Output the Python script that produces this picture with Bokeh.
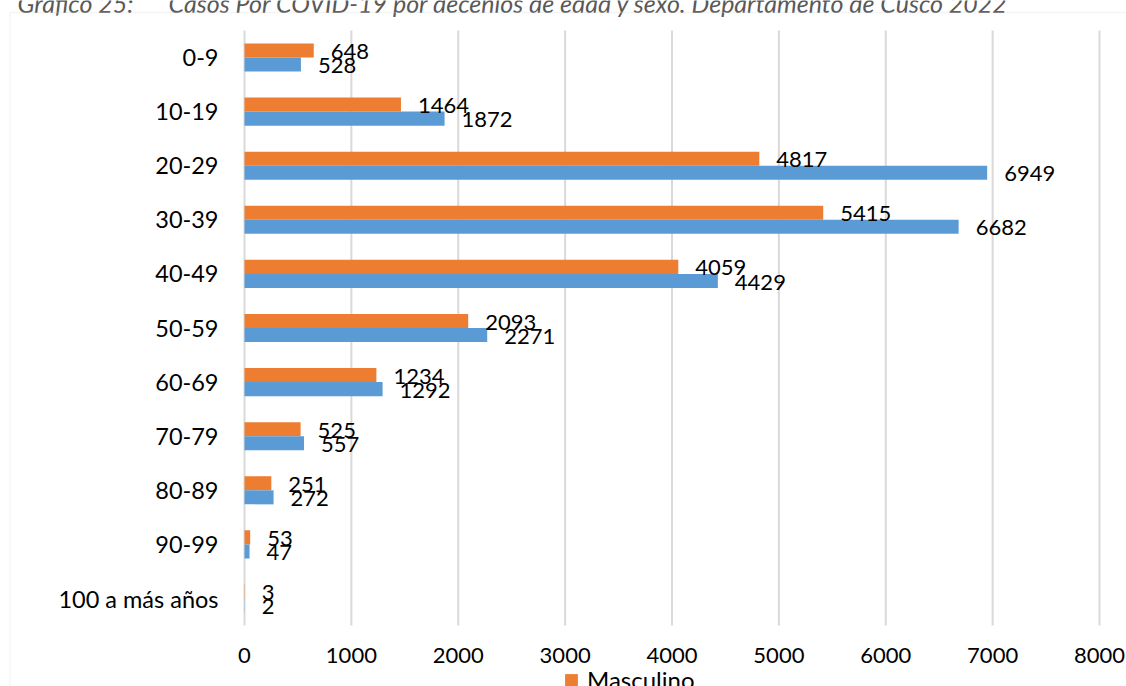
from bokeh.plotting import figure
from bokeh.models import ColumnDataSource, Range1d, BoxAnnotation, Legend, LegendItem
from bokeh.transform import dodge
from bokeh.core.properties import value
from bokeh.embed import file_html
from bokeh.resources import INLINE

# ---- data ----
categories = ["0-9", "10-19", "20-29", "30-39", "40-49", "50-59", "60-69",
              "70-79", "80-89", "90-99", "100 a más años"]
masculino = [648, 1464, 4817, 5415, 4059, 2093, 1234, 525, 251, 53, 3]
femenino = [528, 1872, 6949, 6682, 4429, 2271, 1292, 557, 272, 47, 2]
x_ticks = [0, 1000, 2000, 3000, 4000, 5000, 6000, 7000, 8000]
x_tick_labels = [str(t) for t in x_ticks]
title_parts = ["Gráfico 25:",
               "Casos Por COVID-19 por decenios de edad y sexo. Departamento de Cusco 2022"]

ORANGE = "#ED7D31"
BLUE = "#5B9BD5"
GRID = "#d9d9d9"
FONT = "Lato"

W, H = 1126, 686
PX_PER_UNIT_X = 0.106875   # px per value unit
X0_PX = 244                # px position of value 0
ROW_PX = 54.1              # px per category row
ROW0_PX = 57               # px position of first category centre


def xv(px):
    return (px - X0_PX) / PX_PER_UNIT_X


def yv(px):
    return (px - ROW0_PX) / ROW_PX


p = figure(width=W, height=H, output_backend="svg", toolbar_location=None,
           x_axis_type=None, y_axis_type=None,
           x_range=Range1d(xv(0), xv(W)), y_range=Range1d(yv(H), yv(0)),
           min_border=0, min_border_left=0, min_border_right=0,
           min_border_top=0, min_border_bottom=0)
p.outline_line_color = None
p.background_fill_color = "white"
p.border_fill_color = "white"

idx = list(range(len(categories)))
src = ColumnDataSource(dict(idx=idx, cat=categories, masc=masculino, fem=femenino,
                            masc_lbl=[str(v) for v in masculino],
                            fem_lbl=[str(v) for v in femenino]))

# chart border box (top/left visible)
p.add_layout(BoxAnnotation(left=xv(9.5), right=xv(W + 50),
                           top=yv(12), bottom=yv(H + 50),
                           fill_alpha=0, line_color=GRID, line_width=1.3))

# vertical gridlines
n = len(categories)
p.segment(x0=x_ticks, x1=x_ticks, y0=[-0.5] * len(x_ticks), y1=[n - 0.5] * len(x_ticks),
          line_color=GRID, line_width=2)

# bars
BAR_H = 0.26
r_m = p.hbar(y=dodge("idx", -0.13), left=0, right="masc", height=BAR_H,
             fill_color=ORANGE, line_color=None, source=src)
r_f = p.hbar(y=dodge("idx", 0.13), left=0, right="fem", height=BAR_H,
             fill_color=BLUE, line_color=None, source=src)

# data labels
p.text(x="masc", y=dodge("idx", -0.11), text="masc_lbl", source=src,
       x_offset=17, text_align="left", text_baseline="middle",
       text_font=value(FONT), text_font_size="22px", text_color="black")
p.text(x="fem", y=dodge("idx", 0.15), text="fem_lbl", source=src,
       x_offset=17, text_align="left", text_baseline="middle",
       text_font=value(FONT), text_font_size="22px", text_color="black")

# category labels (y axis)
p.text(x=0, y="idx", text="cat", source=src, x_offset=-26,
       text_align="right", text_baseline="middle",
       text_font=value(FONT), text_font_size="23.5px", text_color="black")

# x tick labels
p.text(x=x_ticks, y=[yv(655)] * len(x_ticks), text=x_tick_labels,
       text_align="center", text_baseline="middle",
       text_font=value(FONT), text_font_size="22px", text_color="black")

# title (partially cut at the top, as in the reference)
p.text(x=[xv(17), xv(168)], y=[yv(2), yv(2)], text=title_parts,
       text_align="left", text_baseline="middle",
       text_font=value(FONT), text_font_style="italic",
       text_font_size="25px", text_color="#595959")

# legend
legend = Legend(items=[LegendItem(label="Masculino", renderers=[r_m])],
                location=(563, -8), orientation="horizontal",
                glyph_width=16, glyph_height=16, label_standoff=8,
                padding=0, margin=0, spacing=0,
                border_line_alpha=0, background_fill_alpha=0,
                label_text_font=FONT, label_text_font_size="24px",
                label_text_color="black")
p.add_layout(legend)

open("out.html", "w").write(file_html(p, INLINE))
